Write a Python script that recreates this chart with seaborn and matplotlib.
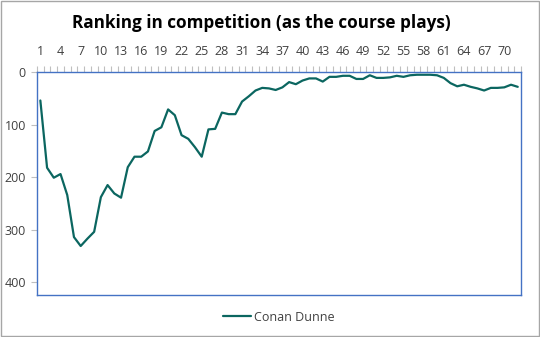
import matplotlib
matplotlib.use("Agg")
import matplotlib.pyplot as plt
import seaborn as sns
import pandas as pd
from matplotlib.patches import Rectangle

# Hole-by-hole competition ranking
holes = list(range(1, 73))
ranking = [
    54, 182, 201, 194, 234, 314, 331, 317, 304, 238,
    215, 231, 239, 181, 161, 161, 151, 112, 105, 71,
    82, 120, 127, 143, 161, 109, 108, 77, 80, 80,
    56, 46, 35, 30, 31, 34, 29, 19, 23, 16,
    12, 12, 18, 9, 9, 7, 7, 13, 13, 6,
    11, 11, 10, 7, 9, 6, 5, 5, 5, 6,
    11, 21, 27, 24, 28, 31, 35, 30, 30, 29,
    24, 28,
]
player = "Conan Dunne"
tick_labels = list(range(1, 73, 3))
y_ticks = [0, 100, 200, 300, 400]

df = pd.DataFrame({"hole": holes, "rank": ranking, "player": player})

sns.set_theme(style="white")
plt.rcParams["font.family"] = ["Open Sans", "DejaVu Sans"]

fig = plt.figure(figsize=(5.4, 3.37), dpi=100)
ax = fig.add_axes([0.0685, 0.125, 0.8965, 0.661])

line_color = "#0B6660"
sns.lineplot(data=df, x="hole", y="rank", ax=ax, color=line_color,
             linewidth=1.6, label=player)

ax.set_xlim(0.5, 72.5)
ax.set_ylim(424, 0)
ax.set_xlabel("")
ax.set_ylabel("")

# Category axis along the top
ax.xaxis.tick_top()
ax.set_xticks(tick_labels)
ax.set_xticklabels([str(t) for t in tick_labels], fontsize=9, color="#404040")
ax.set_xticks([h + 0.5 for h in range(0, 73)], minor=True)
ax.tick_params(axis="x", which="major", top=False, length=0, pad=10)
ax.tick_params(axis="x", which="minor", top=True, bottom=False, length=4,
               width=0.8, color="#BFBFBF", direction="out")

ax.set_yticks(y_ticks)
ax.set_yticklabels([str(t) for t in y_ticks], fontsize=9, color="#404040")
ax.tick_params(axis="y", which="major", left=True, length=4, width=0.8,
               color="#BFBFBF", direction="out", pad=4)

for side in ["left", "right", "top", "bottom"]:
    ax.spines[side].set_visible(True)
    ax.spines[side].set_color("#4472C4")
    ax.spines[side].set_linewidth(1.0)

ax.grid(False)

fig.suptitle("Ranking in competition (as the course plays)", x=0.484, y=0.958,
             fontsize=12.3, fontweight="bold", color="#000000")

ax.legend(loc="upper center", bbox_to_anchor=(0.5, -0.02), frameon=False,
          fontsize=9, handlelength=2.2, handletextpad=0.3)
for t in ax.get_legend().get_texts():
    t.set_color("#404040")

# Outer chart border
fig.patches.append(Rectangle((0.001, 0.002), 0.997, 0.995, transform=fig.transFigure,
                             fill=False, edgecolor="#A6A6A6", linewidth=1.0))

fig.savefig("out.png", dpi=100)
